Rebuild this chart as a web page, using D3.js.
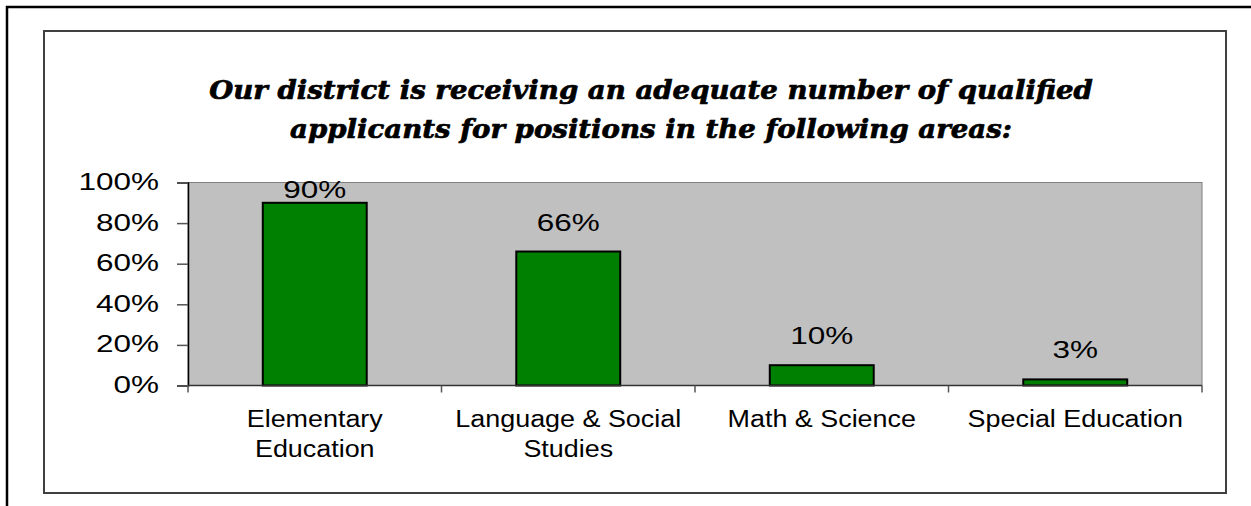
<!DOCTYPE html>
<html>
<head>
<meta charset="utf-8">
<script src="https://cdn.jsdelivr.net/npm/d3@7"></script>
<style>
  html, body { margin: 0; padding: 0; background: #fff; }
  svg { display: block; }
</style>
</head>
<body>
<svg id="chart" width="1251" height="506"></svg>
<script>
// ---- data ----
const categories = [["Elementary", "Education"], ["Language & Social", "Studies"], ["Math & Science"], ["Special Education"]];
const values = [90, 66, 10, 3];
const yTicks = [0, 20, 40, 60, 80, 100];
const titleLines = ["Our district is receiving an adequate number of qualified", "applicants for positions in the following areas:"];

// ---- layout ----
const W = 1251, H = 506;
const plot = { left: 188, right: 1202, top: 182.5, bottom: 385.5 };
const svg = d3.select("#chart");

const x = d3.scaleBand().domain(d3.range(categories.length)).range([plot.left, plot.right]).paddingInner(0).paddingOuter(0);
const y = d3.scaleLinear().domain([0, 100]).range([plot.bottom, plot.top]);

const numScale = 1.34, catScale = 1.17;
const fontSans = "'Liberation Sans', Arial, sans-serif";

// outer frame (partially off-canvas)
svg.append("path").attr("d", `M7,506 L7,7 L1251,7`).attr("fill", "none").attr("stroke", "#000").attr("stroke-width", 2.5);

// inner chart border
svg.append("rect").attr("x", 44).attr("y", 31).attr("width", 1182).attr("height", 462)
  .attr("fill", "#fff").attr("stroke", "#404040").attr("stroke-width", 2);

// title
const title = svg.append("g");
const tl = title.selectAll("text").data(titleLines).enter().append("text")
  .attr("font-family", "'DejaVu Serif', serif")
  .attr("font-weight", "bold").attr("font-style", "italic")
  .attr("font-size", 26).attr("fill", "#000")
  .attr("stroke", "#000").attr("stroke-width", 0.7)
  .attr("text-anchor", "middle")
  .text(d => d);
const targetW = 884;
const natW = tl.nodes()[0].getComputedTextLength();
const ts = targetW / natW;
tl.attr("transform", (d, i) => `translate(651,${i === 0 ? 99 : 137.5}) scale(${ts},1)`);

// plot background
svg.append("rect").attr("x", plot.left).attr("y", plot.top)
  .attr("width", plot.right - plot.left).attr("height", plot.bottom - plot.top)
  .attr("fill", "#c0c0c0").attr("stroke", "#808080").attr("stroke-width", 1);

// bars
svg.selectAll("rect.bar").data(values).enter().append("rect").attr("class", "bar")
  .attr("x", (d, i) => x(i) + x.bandwidth() * 0.295)
  .attr("width", x.bandwidth() * 0.41)
  .attr("y", d => y(d))
  .attr("height", d => y(0) - y(d))
  .attr("fill", "#008000").attr("stroke", "#000").attr("stroke-width", 2);

// value labels
svg.selectAll("text.val").data(values).enter().append("text").attr("class", "val")
  .attr("font-family", fontSans).attr("font-size", 23.5).attr("fill", "#000")
  .attr("text-anchor", "middle")
  .attr("transform", (d, i) => {
    const cx = x(i) + x.bandwidth() / 2;
    const by = Math.max(y(d) - 21, plot.top + 15);
    return `translate(${cx},${by}) scale(${numScale},1)`;
  })
  .text(d => d + "%");

// y axis
const yAxis = d3.axisLeft(y).tickValues(yTicks).tickSize(11).tickPadding(0).tickFormat(() => "");
const yg = svg.append("g").attr("transform", `translate(${plot.left},0)`).call(yAxis);
yg.select(".domain").attr("stroke", "#000").attr("stroke-width", 1.5);
yg.selectAll(".tick line").attr("stroke", "#555").attr("stroke-width", 1.5);
yg.selectAll(".tick").append("text")
  .attr("fill", "#000").attr("font-family", fontSans).attr("font-size", 23.5)
  .attr("text-anchor", "end")
  .attr("transform", `translate(-29,7) scale(${numScale},1)`)
  .text(d => d + "%");

// x axis
const xEdge = d3.scaleLinear().domain([0, categories.length]).range([plot.left, plot.right]);
const xg = svg.append("g").attr("transform", `translate(0,${plot.bottom})`);
xg.append("line").attr("x1", plot.left).attr("x2", plot.right).attr("stroke", "#333").attr("stroke-width", 1.5);
xg.selectAll("line.tk").data(d3.range(categories.length + 1)).enter().append("line").attr("class", "tk")
  .attr("x1", d => xEdge(d)).attr("x2", d => xEdge(d)).attr("y1", 0).attr("y2", 7)
  .attr("stroke", "#555").attr("stroke-width", 1.5);

// category labels
const cl = svg.selectAll("g.cat").data(categories).enter().append("g").attr("class", "cat")
  .attr("transform", (d, i) => `translate(${x(i) + x.bandwidth() / 2},0)`);
cl.selectAll("text").data(d => d).enter().append("text")
  .attr("font-family", fontSans).attr("font-size", 23).attr("fill", "#000")
  .attr("text-anchor", "middle")
  .attr("transform", (d, j) => `translate(0,${427 + j * 30}) scale(${catScale},1)`)
  .text(d => d);
</script>
</body>
</html>
